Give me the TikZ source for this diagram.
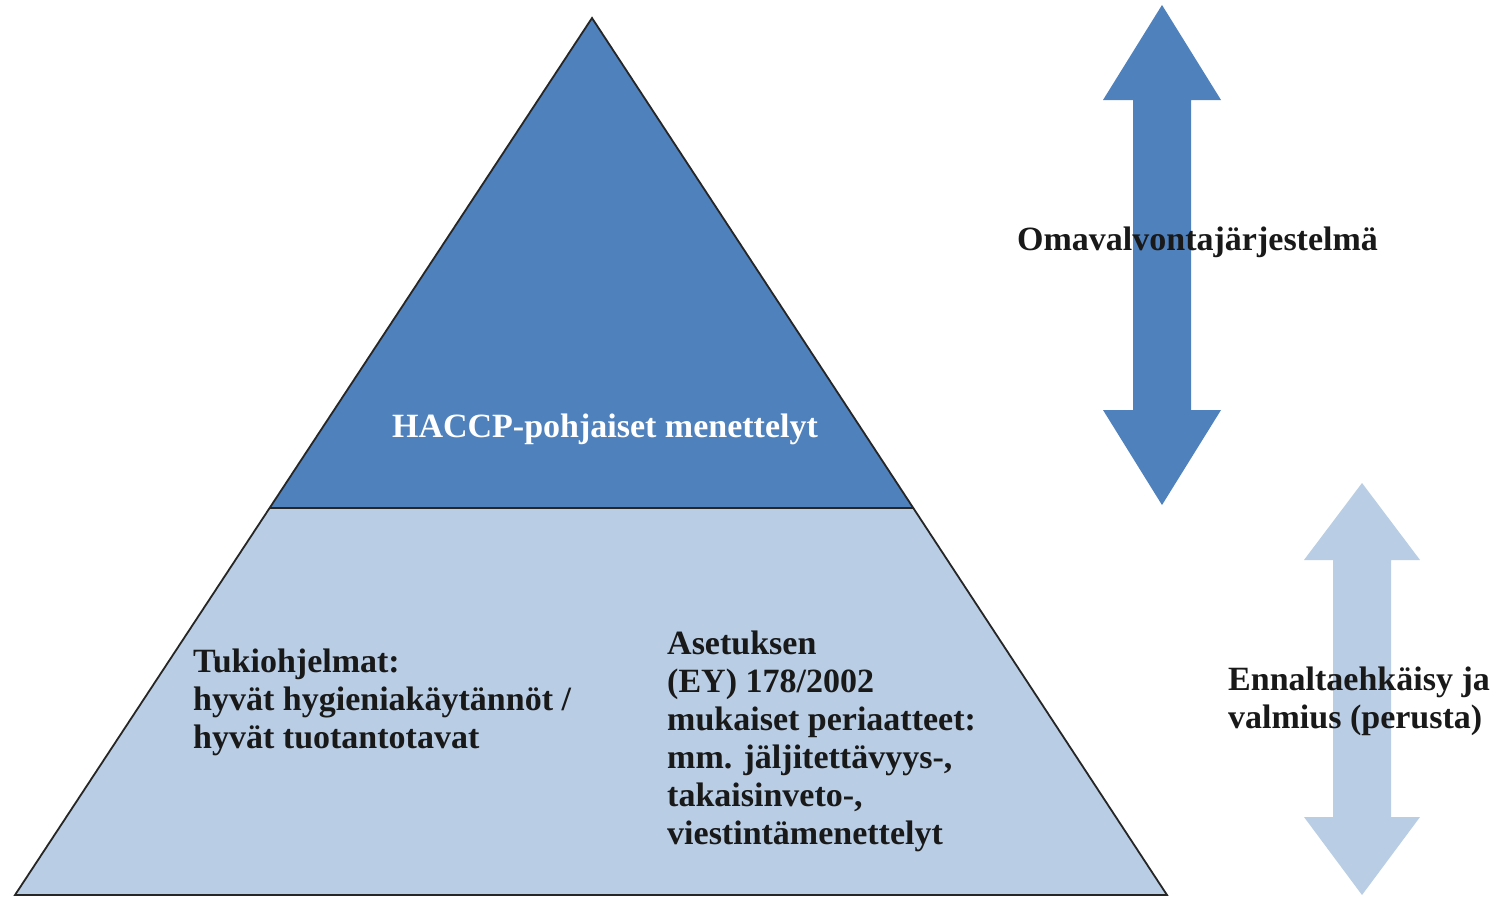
\documentclass[tikz,border=0pt]{standalone}
\usepackage{fontspec}
\setmainfont{Liberation Serif}
\begin{document}
\begin{tikzpicture}[x=1pt,y=-1pt,
  lbl/.style={font=\bfseries\fontsize{34}{38}\selectfont, inner sep=0pt, align=left, text=black!90}]
\definecolor{darkblue}{HTML}{4F81BD}
\definecolor{lightblue}{HTML}{B9CDE5}
\useasboundingbox (0,0) rectangle (1499,899);
\fill[white] (0,0) rectangle (1499,899);
% pyramid
\coordinate (apex) at (592,18);
\coordinate (bl) at (15,895);
\coordinate (br) at (1167,895);
\coordinate (ml) at (269.6,508);
\coordinate (mr) at (913,508);
\fill[lightblue] (ml) -- (mr) -- (br) -- (bl) -- cycle;
\fill[darkblue] (apex) -- (mr) -- (ml) -- cycle;
\draw[line width=1.8pt, black!85, line join=miter] (apex) -- (br) -- (bl) -- cycle;
\draw[line width=1.8pt, black!85] (ml) -- (mr);
% dark double arrow
\fill[darkblue] (1162,5) -- (1221,100) -- (1191,100) -- (1191,410) -- (1221,410)
  -- (1162,505) -- (1103,410) -- (1133,410) -- (1133,100) -- (1103,100) -- cycle;
% light double arrow
\fill[lightblue] (1362,483) -- (1420,560) -- (1391,560) -- (1391,817) -- (1420,817)
  -- (1362,895) -- (1304,817) -- (1333,817) -- (1333,560) -- (1304,560) -- cycle;
% texts
\node[lbl, text=white, anchor=base] (haccp) at (605,437) {HACCP-pohjaiset menettelyt};
\node[lbl, anchor=base west] (tuki) at (193,748) {Tukiohjelmat:\\hyvät hygieniakäytännöt /\\hyvät tuotantotavat};
\node[lbl, anchor=base west] (asetus) at (667,844) {Asetuksen\\(EY) 178/2002\\mukaiset periaatteet:\\mm. jäljitettävyys-,\\takaisinveto-,\\viestintämenettelyt};
\node[lbl, anchor=base west] (oma) at (1017,250) {Omavalvontajärjestelmä};
\node[lbl, anchor=base west] (enn) at (1228,728) {Ennaltaehkäisy ja\\valmius (perusta)};
\end{tikzpicture}
\end{document}
